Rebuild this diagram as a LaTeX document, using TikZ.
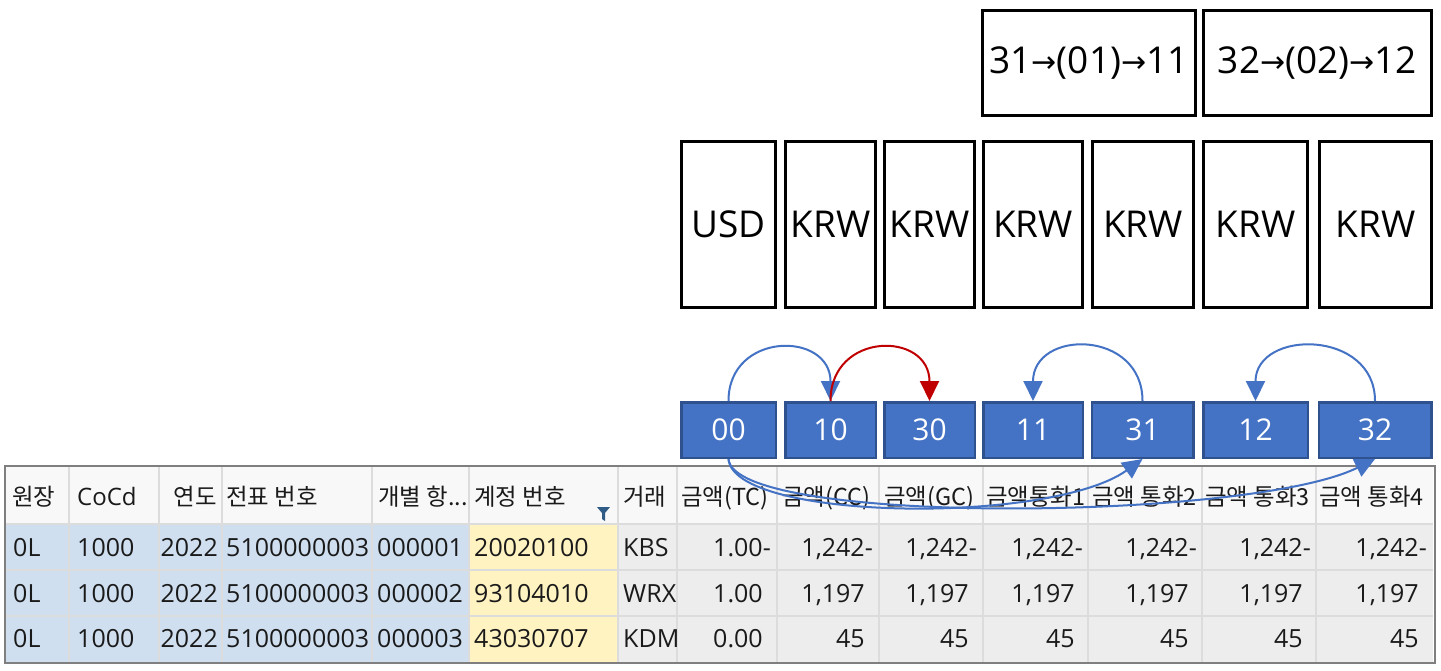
\documentclass[tikz,border=0pt]{standalone}
\usepackage{fontspec}
\setmainfont{Open Sans}
\newfontfamily\krfont{Noto Sans CJK KR}
\newfontfamily\arrfont{DejaVu Sans}
\usetikzlibrary{arrows.meta,calc}
\definecolor{boxblue}{HTML}{4472C4}
\definecolor{boxedge}{HTML}{2F528F}
\definecolor{arrred}{HTML}{C00000}
\definecolor{hdrbg}{HTML}{F8F8F8}
\definecolor{keybg}{HTML}{CFDFEF}
\definecolor{acctbg}{HTML}{FFF3C2}
\definecolor{valbg}{HTML}{EDEDED}
\definecolor{gridc}{HTML}{DCDCDC}
\definecolor{framec}{HTML}{7F7F7F}
\definecolor{filtc}{HTML}{2E5C87}
\definecolor{celltext}{HTML}{1A1A1A}
\newcommand\ar{{\arrfont\fontsize{30}{34}\selectfont\raisebox{1pt}{→}}}
\newcommand\tblrow[7]{%
  \node[lcell] (r#1c1) at (13,#2) {0L};
  \node[lcell] (r#1c2) at (77,#2) {1000};
  \node[rcell] (r#1c3) at (218,#2) {2022};
  \node[lcell] (r#1c4) at (226,#2) {5100000003};
  \node[lcell] (r#1c5) at (377,#2) {#3};
  \node[lcell] (r#1c6) at (474,#2) {#4};
  \node[lcell] (r#1c7) at (623,#2) {#5};
  \node[rcell] (r#1c8) at (771,#2) {#6};
  \foreach \xx [count=\jj from 9] in {873,977,1083,1197,1311,1427}
    \node[rcell] (r#1c\jj) at (\xx,#2) {#7};
}
\tikzset{
  curbox/.style={draw=black, line width=3pt, fill=white, inner sep=0pt,
    font=\fontsize{37}{42}\selectfont},
  codebox/.style={draw=boxedge, line width=2.5pt, fill=boxblue, inner sep=0pt,
    text=white, font=\fontsize{30}{34}\selectfont, minimum height=55.5pt},
  lcell/.style={anchor=base west, inner sep=0pt, text=celltext,
    font=\fontsize{25}{30}\selectfont},
  rcell/.style={anchor=base east, inner sep=0pt, text=celltext,
    font=\fontsize{25}{30}\selectfont},
  hcell/.style={anchor=base west, inner sep=0pt, text=celltext,
    font=\krfont\fontsize{23.4}{28}\selectfont},
  conn/.style={line width=2pt, draw=boxblue,
    -{Triangle[length=20pt,width=19pt]}},
  redconn/.style={conn, draw=arrred},
}
\begin{document}
\begin{tikzpicture}[x=1pt,y=-1pt]
\useasboundingbox (0,0) rectangle (1441,670);
\fill[white] (0,0) rectangle (1441,670);

% ---------- table ----------
\fill[hdrbg] (5,466) rectangle (1433,524);
\fill[keybg] (5,524) rectangle (469,662);
\fill[acctbg] (469,524) rectangle (618,662);
\fill[valbg] (618,524) rectangle (1433,662);
\foreach \xx in {69,159,222,372,469,618,677,777,879,983,1088,1202,1316}
  \draw[gridc, line width=1.2pt] (\xx,467) -- (\xx,662);
\foreach \yy in {524,570,616}
  \draw[gridc, line width=1.2pt] (5,\yy) -- (1433,\yy);
\draw[framec, line width=2.5pt] (5,466) rectangle (1435,663);

% header
\node[hcell] (h1) at (12,505) {원장};
\node[lcell, font=\fontsize{24}{28}\selectfont] (h2) at (77,505) {CoCd};
\node[hcell, anchor=base east] (h3) at (217,505) {연도};
\node[hcell] (h4) at (226,505) {전표 번호};
\node[hcell] (h5) at (378,505) {개별 항...};
\node[hcell] (h6) at (474,505) {계정 번호};
\node[hcell] (h7) at (623,505) {거래};
\node[hcell] (h8) at (681,505) {금액(TC)};
\node[hcell] (h9) at (782,505) {금액(CC)};
\node[hcell] (h10) at (884,505) {금액(GC)};
\node[hcell] (h11) at (986,505) {금액통화1};
\node[hcell] (h12) at (1092,505) {금액 통화2};
\node[hcell] (h13) at (1205,505) {금액 통화3};
\node[hcell] (h14) at (1319,505) {금액 통화4};
\fill[filtc] (597,507) -- (610,507) -- (605,513) -- (605,521) -- (602,519) -- (602,513) -- cycle;

% rows
\tblrow{1}{556}{000001}{20020100}{KBS}{1.00-}{1,242-}
\tblrow{2}{602}{000002}{93104010}{WRX}{1.00\phantom{-}}{1,197\phantom{-}}
\tblrow{3}{647}{000003}{43030707}{KDM}{0.00\phantom{-}}{45\phantom{-}}

% ---------- currency boxes ----------
\node[curbox, minimum width=213pt, minimum height=105pt] (t1) at (1089,63) {31\ar(01)\ar11};
\node[curbox, minimum width=228pt, minimum height=105pt] (t2) at (1317.5,63) {32\ar(02)\ar12};

\node[curbox, minimum width=94pt, minimum height=166pt] (c1) at (728.5,224.5) {USD};
\node[curbox, minimum width=90pt, minimum height=166pt] (c2) at (830.5,224.5) {KRW};
\node[curbox, minimum width=90pt, minimum height=166pt] (c3) at (929.5,224.5) {KRW};
\node[curbox, minimum width=99pt, minimum height=166pt] (c4) at (1033,224.5) {KRW};
\node[curbox, minimum width=101pt, minimum height=166pt] (c5) at (1143,224.5) {KRW};
\node[curbox, minimum width=104pt, minimum height=166pt] (c6) at (1255.5,224.5) {KRW};
\node[curbox, minimum width=112pt, minimum height=166pt] (c7) at (1375.5,224.5) {KRW};

% ---------- code boxes ----------
\node[codebox, minimum width=94.5pt] (b00) at (728.5,430) {00};
\node[codebox, minimum width=90.5pt] (b10) at (830.5,430) {10};
\node[codebox, minimum width=90.5pt] (b30) at (929.5,430) {30};
\node[codebox, minimum width=99.5pt] (b11) at (1033,430) {11};
\node[codebox, minimum width=101.5pt] (b31) at (1142.5,430) {31};
\node[codebox, minimum width=104.5pt] (b12) at (1255.5,430) {12};
\node[codebox, minimum width=112.5pt] (b32) at (1375,430) {32};

% ---------- connectors ----------
\draw[conn] (b00.north) .. controls ($(b00.north)+(0,-70)$) and ($(b10.north)+(0,-70)$) .. (b10.north);
\draw[redconn] (b10.north) .. controls ($(b10.north)+(0,-70)$) and ($(b30.north)+(0,-70)$) .. (b30.north);
\draw[conn] (b31.north) .. controls ($(b31.north)+(0,-72)$) and ($(b11.north)+(0,-72)$) .. (b11.north);
\draw[conn] (b32.north) .. controls ($(b32.north)+(0,-72)$) and ($(b12.north)+(0,-72)$) .. (b12.north);
\draw[conn] (b00.south) .. controls ($(b00.south)+(5,62)$) and ($(b31.south)+(-92,66)$) .. (b31.south);
\draw[conn] (b00.south) .. controls ($(b00.south)+(5,67)$) and ($(b32.south)+(-125,62)$) .. (b32.south);
\end{tikzpicture}
\end{document}
